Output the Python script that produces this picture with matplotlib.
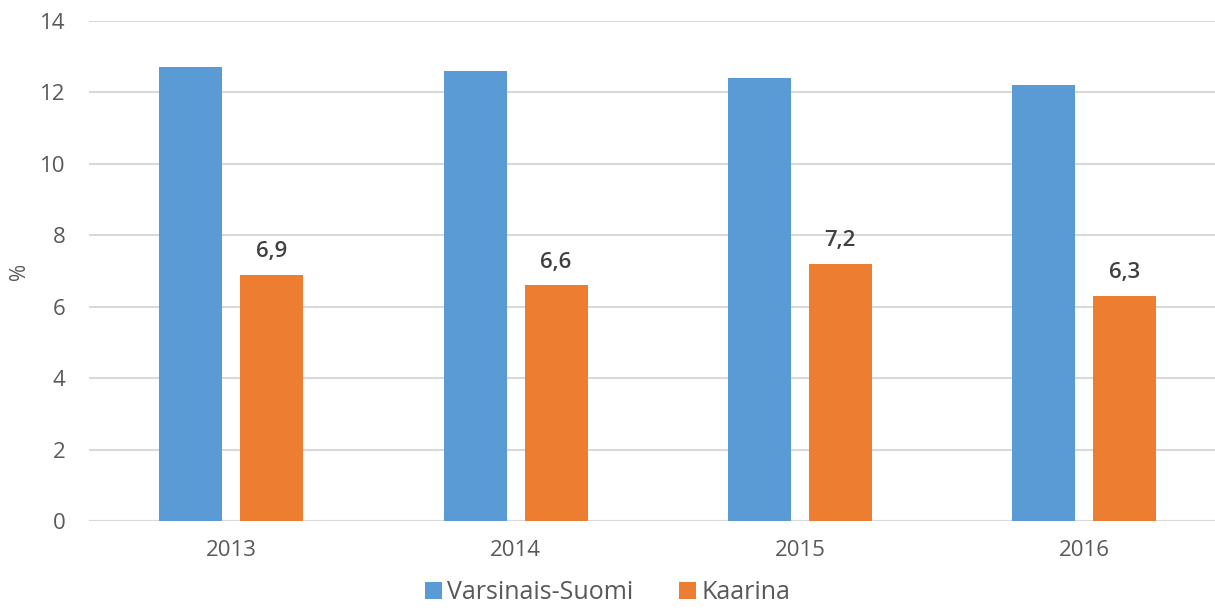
import matplotlib
matplotlib.use("Agg")
import matplotlib.pyplot as plt
import numpy as np

years = ["2013", "2014", "2015", "2016"]
varsinais_suomi = [12.7, 12.6, 12.4, 12.2]
kaarina = [6.9, 6.6, 7.2, 6.3]
kaarina_labels = ["6,9", "6,6", "7,2", "6,3"]

plt.rcParams['font.family'] = ['Open Sans', 'DejaVu Sans']
text_col = '#595959'

fig = plt.figure(figsize=(12.15, 6.14), dpi=100)
ax = fig.add_axes([0.0733, 0.1515, 0.936, 0.8143])

x = np.arange(len(years))
w = 0.2216
off = 0.1425
ax.bar(x - off, varsinais_suomi, w, color='#5B9BD5', label='Varsinais-Suomi', zorder=3)
bars = ax.bar(x + off, kaarina, w, color='#ED7D31', label='Kaarina', zorder=3)

for b, lab in zip(bars, kaarina_labels):
    ax.annotate(lab, (b.get_x() + b.get_width() / 2, b.get_height()),
                xytext=(0, 9), textcoords='offset points', ha='center', va='bottom',
                fontsize=16, color='#404040', fontweight='semibold')

ax.set_xlim(-0.5, len(years) - 0.5)
ax.set_ylim(0, 14)
ax.set_yticks(range(0, 15, 2))
ax.set_xticks(x)
ax.set_xticklabels(years)
ax.tick_params(axis='both', length=0, labelsize=16, labelcolor=text_col)
ax.tick_params(axis='y', pad=17)
ax.tick_params(axis='x', pad=14)
ax.grid(axis='y', color='#D9D9D9', linewidth=1.5, zorder=0)
for s in ax.spines.values():
    s.set_visible(False)
ax.axhline(0, color='#D9D9D9', linewidth=1.5, zorder=2)

ax.set_ylabel('%', fontsize=15, color=text_col)
ax.yaxis.set_label_coords(-0.052, 0.5)

fig.legend(loc='lower center', bbox_to_anchor=(0.5, -0.022), ncol=2, frameon=False,
           fontsize=18, labelcolor=text_col, handlelength=0.7, handleheight=0.7,
           handletextpad=0.2, columnspacing=1.8)

fig.savefig('out.png', dpi=100)
